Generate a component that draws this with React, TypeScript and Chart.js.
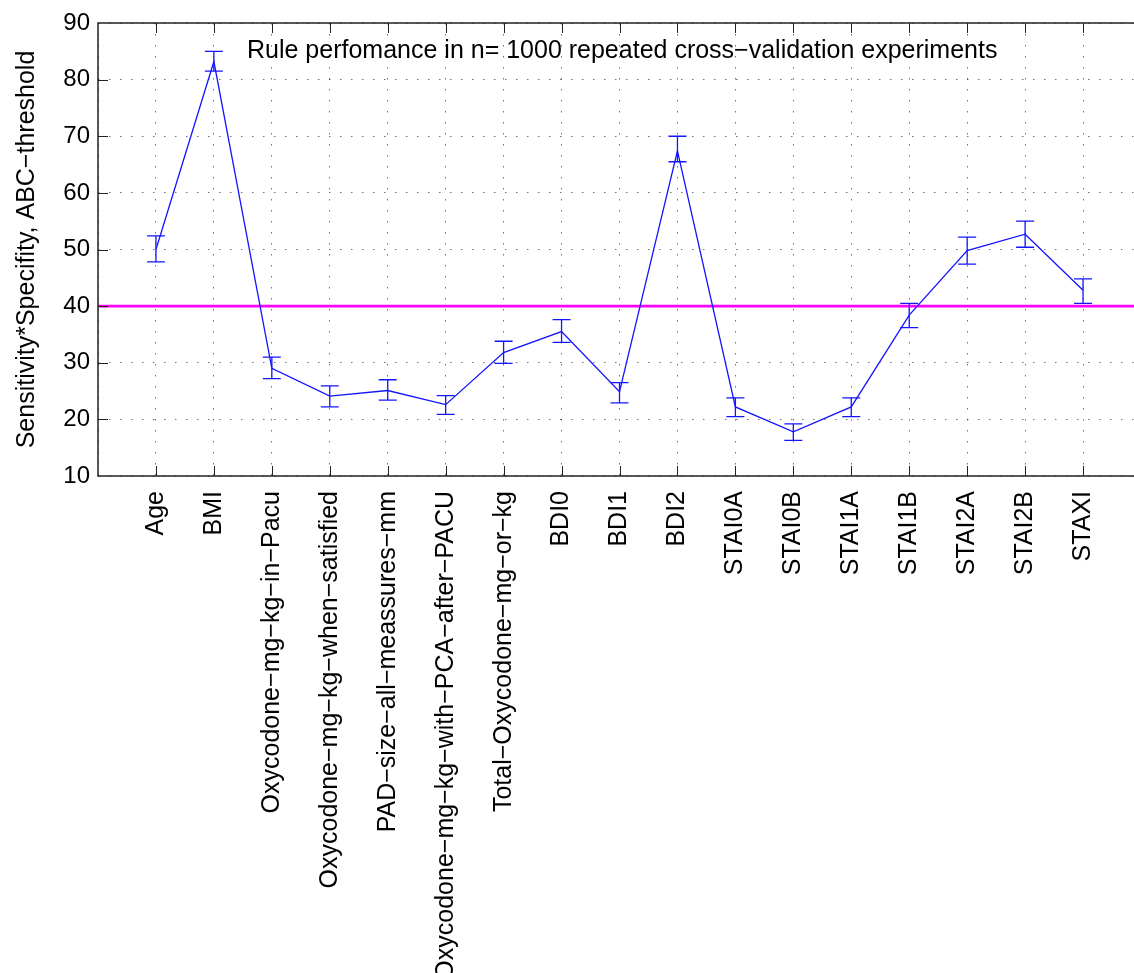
import React, { useEffect, useRef } from 'react';
import { Chart, registerables } from 'chart.js';

Chart.register(...registerables);

const categories = [
  'Age',
  'BMI',
  'Oxycodone−mg−kg−in−Pacu',
  'Oxycodone−mg−kg−when−satisfied',
  'PAD−size−all−meassures−mm',
  'Oxycodone−mg−kg−with−PCA−after−PACU',
  'Total−Oxycodone−mg−or−kg',
  'BDI0',
  'BDI1',
  'BDI2',
  'STAI0A',
  'STAI0B',
  'STAI1A',
  'STAI1B',
  'STAI2A',
  'STAI2B',
  'STAXI',
];
const meanValues = [50.0, 83.2, 29.0, 24.1, 25.1, 22.6, 31.8, 35.5, 24.9, 67.4, 22.2, 17.8, 22.2, 38.4, 49.8, 52.7, 42.8];
const upperValues = [52.4, 85.0, 31.0, 25.9, 27.0, 24.2, 33.8, 37.6, 26.5, 70.0, 23.8, 19.2, 23.8, 40.5, 52.2, 55.0, 44.8];
const lowerValues = [47.8, 81.5, 27.2, 22.2, 23.4, 20.9, 29.9, 33.6, 22.9, 65.5, 20.5, 16.3, 20.5, 36.2, 47.4, 50.4, 40.5];
const thresholdValue = 40;
const yMin = 10;
const yMax = 90;
const yStep = 10;
const legendText = 'Rule perfomance in n= 1000 repeated cross−validation experiments';
const yTitle = 'Sensitivity*Specifity, ABC−threshold';

const FONT = '"Liberation Sans", Arial, Helvetica, sans-serif';
const BLUE = 'rgb(20,20,255)';

const errorBarPlugin = {
  id: 'errorBars',
  afterDatasetsDraw(chart: any) {
    const { ctx, scales } = chart;
    const xs = scales.x;
    const ys = scales.y;
    ctx.save();
    ctx.strokeStyle = BLUE;
    ctx.lineWidth = 1.3;
    const cap = 9;
    for (let i = 0; i < meanValues.length; i++) {
      const x = xs.getPixelForValue(i + 1);
      const yt = ys.getPixelForValue(upperValues[i]);
      const yb = ys.getPixelForValue(lowerValues[i]);
      ctx.beginPath();
      ctx.moveTo(x, yt);
      ctx.lineTo(x, yb);
      ctx.moveTo(x - cap, yt);
      ctx.lineTo(x + cap, yt);
      ctx.moveTo(x - cap, yb);
      ctx.lineTo(x + cap, yb);
      ctx.stroke();
    }
    ctx.restore();
  },
};

const framePlugin = {
  id: 'frame',
  afterDraw(chart: any) {
    const { ctx, chartArea, scales } = chart;
    const { left, right, top, bottom } = chartArea;
    ctx.save();
    ctx.strokeStyle = '#222';
    ctx.lineWidth = 1.5;
    ctx.beginPath();
    ctx.moveTo(right, top);
    ctx.lineTo(left, top);
    ctx.lineTo(left, bottom);
    ctx.lineTo(right, bottom);
    ctx.stroke();
    ctx.lineWidth = 1;
    const tl = 10;
    ctx.beginPath();
    for (let v = 1; v < 18; v++) {
      const x = Math.round(scales.x.getPixelForValue(v)) + 0.5;
      ctx.moveTo(x, bottom);
      ctx.lineTo(x, bottom - tl);
      ctx.moveTo(x, top);
      ctx.lineTo(x, top + tl);
    }
    for (let v = yMin + yStep; v < yMax; v += yStep) {
      const y = Math.round(scales.y.getPixelForValue(v)) + 0.5;
      ctx.moveTo(left, y);
      ctx.lineTo(left + tl, y);
    }
    ctx.stroke();
    // legend
    ctx.fillStyle = '#000';
    ctx.font = `25px ${FONT}`;
    ctx.textBaseline = 'middle';
    ctx.textAlign = 'left';
    ctx.fillText(legendText, left + 149, top + 28);
    ctx.restore();
  },
};

export default function App() {
  const ref = useRef<HTMLCanvasElement | null>(null);
  useEffect(() => {
    if (!ref.current) return;
    const chart = new Chart(ref.current, {
      type: 'line',
      data: {
        datasets: [
          {
            label: legendText,
            data: meanValues.map((v, i) => ({ x: i + 1, y: v })),
            borderColor: BLUE,
            borderWidth: 1.3,
            pointRadius: 0,
            tension: 0,
            fill: false,
          },
          {
            label: 'threshold',
            data: [
              { x: 0, y: thresholdValue },
              { x: categories.length + 1, y: thresholdValue },
            ],
            borderColor: '#ff00ff',
            borderWidth: 2.6,
            pointRadius: 0,
            fill: false,
          },
        ],
      },
      options: {
        animation: false,
        responsive: false,
        devicePixelRatio: 1,
        layout: { padding: { top: 23, left: 0, right: 0, bottom: 0 } },
        plugins: {
          legend: { display: false },
          tooltip: { enabled: false },
          title: { display: false },
        },
        scales: {
          x: {
            type: 'linear',
            min: 0,
            max: categories.length + 1,
            afterFit(scale: any) {
              scale.height = 497;
              scale.paddingLeft = 0;
              scale.paddingRight = 0;
            },
            ticks: {
              stepSize: 1,
              autoSkip: false,
              maxRotation: 90,
              minRotation: 90,
              padding: 15,
              color: '#000',
              font: { family: FONT, size: 25 },
              callback: (v: any) => {
                const n = Number(v);
                return n >= 1 && n <= categories.length ? categories[n - 1] : '';
              },
            },
            grid: {
              display: true,
              drawTicks: false,
              color: 'rgba(0,0,0,0.55)',
              lineWidth: 1,
            },
            border: { display: false, dash: [1.5, 9.5] },
          },
          y: {
            type: 'linear',
            min: yMin,
            max: yMax,
            afterFit(scale: any) {
              scale.width = 98;
            },
            ticks: {
              stepSize: yStep,
              padding: 8,
              color: '#000',
              font: { family: FONT, size: 24 },
            },
            grid: {
              display: true,
              drawTicks: false,
              color: 'rgba(0,0,0,0.55)',
              lineWidth: 1,
            },
            border: { display: false, dash: [1.5, 9.5] },
            title: {
              display: true,
              text: yTitle,
              color: '#000',
              font: { family: FONT, size: 25 },
              padding: { top: 12, bottom: 0 },
            },
          },
        },
      },
      plugins: [errorBarPlugin, framePlugin],
    } as any);
    return () => chart.destroy();
  }, []);
  return (
    <div
      style={{
        position: 'fixed',
        left: 0,
        top: 0,
        width: 1134,
        height: 973,
        overflow: 'hidden',
        background: '#fff',
      }}
    >
      <canvas ref={ref} width={1141} height={973} style={{ width: 1141, height: 973, display: 'block' }} />
    </div>
  );
}
